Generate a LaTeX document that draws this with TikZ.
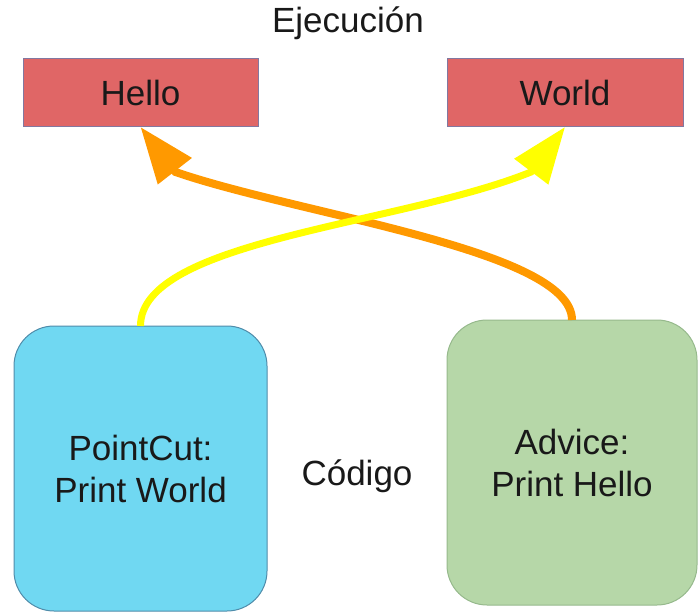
\documentclass[tikz,border=0pt]{standalone}
\usepackage{fontspec}
\setmainfont{Liberation Sans}
\usetikzlibrary{arrows.meta,calc}
\definecolor{redbox}{RGB}{224,102,102}
\definecolor{redline}{RGB}{130,120,160}
\definecolor{bluebox}{RGB}{112,216,242}
\definecolor{blueline}{RGB}{80,140,170}
\definecolor{greenbox}{RGB}{182,215,168}
\definecolor{greenline}{RGB}{150,185,140}
\definecolor{arroworange}{RGB}{255,153,0}
\definecolor{arrowyellow}{RGB}{255,255,0}
\definecolor{txt}{RGB}{25,25,25}
\tikzset{
  lbl/.style={font=\fontsize{35}{42}\selectfont, text=txt},
  execbox/.style={lbl, fill=redbox, draw=redline, line width=1pt, inner sep=0pt, outer sep=0pt},
  codebox/.style={lbl, rounded corners=40pt, line width=1pt, inner sep=0pt, outer sep=0pt, align=center},
  flow/.style={line width=#1, -{Triangle[length=56pt,width=41pt]}},
}
\begin{document}
\begin{tikzpicture}[x=1pt,y=-1pt]
\useasboundingbox (0,0) rectangle (698,612);
\node[lbl, anchor=base] (exec) at (348,33) {Ejecución};
\node[execbox, minimum width=235pt, minimum height=68pt] (hello) at (140.5,93) {Hello};
\node[execbox, minimum width=236pt, minimum height=68pt] (world) at (565,93) {World};
\node[codebox, fill=bluebox, draw=blueline, minimum width=253pt, minimum height=285pt] (pc) at (140.5,468.5) {PointCut:\\Print World};
\node[codebox, fill=greenbox, draw=greenline, minimum width=250pt, minimum height=285pt] (adv) at (572,462.5) {Advice:\\Print Hello};
\node[lbl, anchor=base] (cod) at (357,485) {Código};
\coordinate (ystart) at (hello.south |- pc.north);
\draw[flow=8pt, draw=arroworange]
  (adv.north) .. controls (572,250) and (300,215) .. ($(hello.south)+(35,45)$) -- (hello.south);
\draw[flow=7pt, draw=arrowyellow]
  (ystart) .. controls (140.5,240) and (400,225) .. ($(world.south)+(-34,45)$) -- (world.south);
\end{tikzpicture}
\end{document}
